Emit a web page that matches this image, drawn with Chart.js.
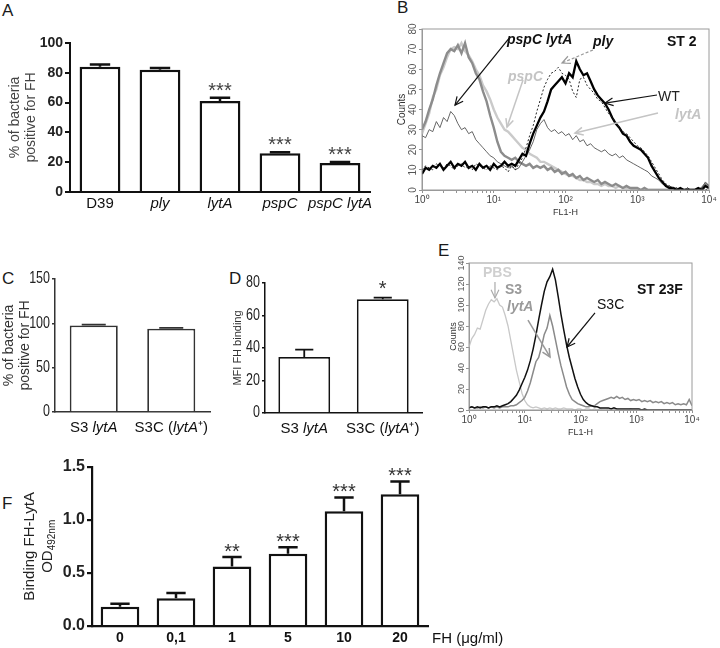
<!DOCTYPE html>
<html>
<head>
<meta charset="utf-8">
<script src="https://cdn.jsdelivr.net/npm/chart.js@4.4.1/dist/chart.umd.min.js"></script>
<style>
  body { margin: 0; background: #fff; width: 720px; height: 648px; position: relative; overflow: hidden;
         font-family: "Liberation Sans", Arial, sans-serif; }
  .tag { position: absolute; font-size: 17px; line-height: 1; color: #1a1a1a; }
  .box { position: absolute; }
</style>
</head>
<body>
<div class="tag" style="left:2px;top:2px">A</div>
<div class="tag" style="left:397px;top:-1px">B</div>
<div class="tag" style="left:2px;top:270px">C</div>
<div class="tag" style="left:229px;top:270px">D</div>
<div class="tag" style="left:438px;top:242px">E</div>
<div class="tag" style="left:2px;top:495px">F</div>

<div class="box" style="left:0;top:28px;width:380px;height:200px"><canvas id="chartA"></canvas></div>
<div class="box" style="left:395px;top:20px;width:325px;height:198px"><canvas id="chartB"></canvas></div>
<div class="box" style="left:0;top:265px;width:215px;height:175px"><canvas id="chartC"></canvas></div>
<div class="box" style="left:215px;top:268px;width:215px;height:172px"><canvas id="chartD"></canvas></div>
<div class="box" style="left:445px;top:253px;width:265px;height:185px"><canvas id="chartE"></canvas></div>
<div class="box" style="left:0;top:455px;width:520px;height:193px"><canvas id="chartF"></canvas></div>

<script>
// ================= DATA =================
// A: % of bacteria positive for FH
const strainsA = ["D39", "ply", "lytA", "pspC", "pspC lytA"];
const fhPosA = [84, 82, 61, 26, 19.5];
const fhPosErrA = [1.5, 1.2, 2.2, 0.6, 0.7];
const starsA = ["", "", "***", "***", "***"];
const yTicksA = [0, 20, 40, 60, 80, 100];

// C / D: serotype 3 strains
const strainsCD = ["S3 lytA", "S3C (lytA⁺)"];
const fhPosC = [97.5, 94];
const fhPosErrC = [1, 0.8];
const yTicksC = [0, 50, 100, 150];
const mfiD = [34.5, 70];
const mfiErrD = [4.5, 1];
const starsD = ["", "*"];
const yTicksD = [0, 20, 40, 60, 80];

// F: FH binding to LytA
const fhDoses = ["0", "0,1", "1", "5", "10", "20"];
const odF = [0.18, 0.26, 0.56, 0.68, 1.08, 1.24];
const odErrF = [0.03, 0.05, 0.09, 0.06, 0.13, 0.12];
const starsF = ["", "", "**", "***", "***", "***"];
const yTicksF = [0, 0.5, 1, 1.5];
const yTickLabelsF = ["0.0", "0.5", "1.0", "1.5"];

// B / E: flow cytometry histograms, x = log10(FL1-H)
const fl1Log = [0, 0.05, 0.1, 0.15, 0.2, 0.25, 0.3, 0.35, 0.4, 0.45,
  0.5, 0.55, 0.6, 0.65, 0.7, 0.75, 0.8, 0.85, 0.9, 0.95,
  1, 1.05, 1.1, 1.15, 1.2, 1.25, 1.3, 1.35, 1.4, 1.45,
  1.5, 1.55, 1.6, 1.65, 1.7, 1.75, 1.8, 1.85, 1.9, 1.95,
  2, 2.05, 2.1, 2.15, 2.2, 2.25, 2.3, 2.35, 2.4, 2.45,
  2.5, 2.55, 2.6, 2.65, 2.7, 2.75, 2.8, 2.85, 2.9, 2.95,
  3, 3.05, 3.1, 3.15, 3.2, 3.25, 3.3, 3.35, 3.4, 3.45,
  3.5, 3.55, 3.6, 3.65, 3.7, 3.75, 3.8, 3.85, 3.9, 3.95, 4];
const decadeLabels = ["10⁰", "10¹", "10²", "10³", "10⁴"];

const yTicksB = [0, 10, 20, 30, 40, 50, 60, 70, 80];
const countsWT = [8, 11, 10, 12, 11, 13, 10, 12, 14, 11,
  13, 12, 14, 11, 12, 10, 13, 11, 12, 10,
  13, 11, 12, 14, 12, 13, 12, 15, 18, 17,
  23, 28, 32, 36, 39, 44, 50, 52, 54, 56,
  53, 58, 56, 64, 60, 57, 58, 54, 50, 47,
  45, 43, 40, 36, 33, 31, 28, 27, 24, 22,
  21, 20, 18, 16, 12, 9, 6, 4, 2, 1,
  1, 0, 1, 0, 0, 0, 0, 1, 0, 2, 1];
const countsPly = [10, 12, 11, 10, 13, 12, 11, 13, 12, 10,
  12, 13, 11, 12, 10, 13, 12, 11, 10, 12,
  11, 10, 12, 11, 9, 12, 10, 13, 16, 21,
  27, 32, 39, 45, 51, 55, 58, 59, 61, 58,
  57, 55, 49, 46, 55, 56, 52, 50, 48, 45,
  44, 41, 38, 36, 34, 31, 29, 28, 26, 24,
  22, 21, 19, 17, 14, 11, 8, 5, 3, 2,
  1, 1, 0, 0, 1, 0, 0, 0, 1, 0, 1];
const countsPspcLytA = [30, 34, 40, 45, 52, 58, 63, 68, 70, 69,
  72, 68, 73, 66, 63, 58, 55, 49, 44, 37,
  31, 24, 19, 17, 16, 15, 16, 14, 13, 12,
  13, 11, 12, 11, 12, 10, 11, 9, 10, 8,
  9, 7, 8, 6, 7, 5, 6, 5, 4, 5,
  3, 4, 3, 2, 3, 2, 1, 2, 1, 1,
  1, 0, 1, 0, 0, 0, 0, 0, 0, 0,
  0, 0, 0, 0, 0, 0, 0, 0, 1, 3, 2];
const countsPspC = [28, 33, 38, 46, 50, 57, 61, 66, 70, 71,
  70, 73, 69, 67, 64, 60, 57, 52, 49, 45,
  40, 36, 33, 30, 29, 27, 25, 23, 21, 20,
  18, 17, 16, 14, 14, 13, 12, 11, 10, 9,
  8, 7, 7, 6, 5, 5, 4, 4, 3, 3,
  2, 3, 2, 2, 1, 2, 1, 1, 1, 0,
  0, 0, 0, 0, 0, 0, 0, 0, 0, 0,
  0, 0, 0, 0, 0, 0, 0, 0, 1, 2, 1];
const countsLytA = [27, 26, 30, 29, 34, 31, 36, 34, 39, 37,
  33, 30, 31, 28, 29, 25, 23, 21, 19, 17,
  16, 14, 13, 12, 11, 12, 10, 11, 14, 17,
  20, 24, 30, 33, 35, 31, 29, 30, 28, 29,
  27, 28, 25, 27, 24, 25, 22, 23, 21, 20,
  19, 20, 18, 17, 18, 16, 17, 15, 14, 13,
  12, 11, 10, 9, 7, 6, 5, 3, 2, 2,
  1, 1, 0, 0, 1, 0, 0, 0, 1, 4, 2];

const yTicksE = [0, 20, 40, 60, 80, 100, 120, 140];
const countsPBS = [60, 68, 72, 78, 77, 86, 95, 101, 105, 103,
  106, 100, 98, 90, 80, 66, 52, 38, 27, 16,
  9, 5, 3, 2, 3, 2, 1, 2, 1, 2,
  1, 2, 1, 1, 2, 1, 1, 1, 0, 1,
  1, 0, 1, 1, 0, 1, 0, 1, 0, 0,
  1, 0, 0, 1, 0, 0, 0, 0, 1, 0,
  0, 0, 0, 0, 0, 0, 0, 0, 0, 0,
  0, 0, 0, 0, 0, 0, 0, 0, 0, 0, 0];
const countsS3LytA = [2, 3, 2, 2, 3, 2, 3, 2, 3, 2,
  3, 2, 3, 3, 3, 4, 4, 5, 7, 9,
  12, 18, 26, 36, 46, 50, 60, 72, 78, 90,
  80, 67, 54, 42, 32, 22, 15, 10, 8, 6,
  5, 4, 3, 3, 4, 4, 6, 8, 9, 10,
  11, 12, 11, 13, 11, 12, 10, 11, 9, 10,
  9, 10, 8, 9, 8, 9, 7, 8, 7, 8,
  6, 7, 6, 7, 5, 6, 5, 6, 5, 10, 4];
const countsS3C = [2, 3, 2, 3, 2, 3, 3, 2, 3, 3,
  4, 3, 4, 5, 6, 8, 11, 14, 19, 25,
  31, 38, 47, 58, 71, 86, 100, 113, 122, 127,
  134, 124, 108, 91, 76, 62, 50, 40, 30, 22,
  15, 10, 7, 5, 4, 3, 3, 2, 2, 2,
  2, 1, 2, 1, 1, 1, 1, 1, 1, 1,
  1, 1, 0, 1, 0, 0, 0, 0, 0, 0,
  0, 0, 0, 0, 0, 0, 0, 0, 0, 0, 0];

// ================= HELPERS =================
const SANS = '"Liberation Sans", Arial, sans-serif';
Chart.defaults.font.family = SANS;
Chart.defaults.color = "#222";

function fontStr(f) {
  return (f.italic ? "italic " : "") + (f.weight || "normal") + " " + f.size + "px " + (f.family || SANS);
}

// category label with gene names in italics
function drawRich(ctx, text, cx, top, f, color) {
  const parts = text.split(/(lytA|pspC|ply)/).filter((p) => p !== "");
  const fonts = parts.map((p) => fontStr({ ...f, italic: /^(lytA|pspC|ply)$/.test(p) }));
  const widths = parts.map((p, i) => { ctx.font = fonts[i]; return ctx.measureText(p).width; });
  let x = cx - widths.reduce((a, b) => a + b, 0) / 2;
  ctx.fillStyle = color;
  ctx.textAlign = "left";
  ctx.textBaseline = "top";
  parts.forEach((p, i) => { ctx.font = fonts[i]; ctx.fillText(p, x, top); x += widths[i]; });
}

function arrow(ctx, x1, y1, x2, y2) {
  const a = Math.atan2(y2 - y1, x2 - x1), L = 9;
  ctx.beginPath();
  ctx.moveTo(x1, y1); ctx.lineTo(x2, y2);
  ctx.stroke();
  ctx.setLineDash([]);
  ctx.beginPath();
  ctx.moveTo(x2 - L * Math.cos(a - 0.45), y2 - L * Math.sin(a - 0.45));
  ctx.lineTo(x2, y2);
  ctx.lineTo(x2 - L * Math.cos(a + 0.45), y2 - L * Math.sin(a + 0.45));
  ctx.stroke();
}

function vText(ctx, t, x, y, font, color) {
  ctx.save();
  ctx.translate(x, y);
  ctx.rotate(-Math.PI / 2);
  ctx.font = font;
  ctx.fillStyle = color;
  ctx.textAlign = "center";
  ctx.textBaseline = "middle";
  ctx.fillText(t, 0, 0);
  ctx.restore();
}

// error bars, stars, labels, annotations
function deco(o) {
  return {
    id: "deco",
    afterDatasetsDraw(chart) {
      if (!o.errs) return;
      const ctx = chart.ctx, ys = chart.scales.y;
      const meta = chart.getDatasetMeta(0);
      ctx.save();
      ctx.strokeStyle = o.ink;
      ctx.lineWidth = o.errW;
      meta.data.forEach((bar, i) => {
        const top = ys.getPixelForValue(o.values[i] + o.errs[i]);
        const half = (bar.width * o.cap) / 2;
        ctx.beginPath();
        ctx.moveTo(bar.x, bar.y); ctx.lineTo(bar.x, top);
        ctx.moveTo(bar.x - half, top); ctx.lineTo(bar.x + half, top);
        ctx.stroke();
        if (o.stars && o.stars[i]) {
          ctx.fillStyle = o.starColor;
          ctx.font = o.starFont;
          ctx.textAlign = "center";
          ctx.textBaseline = "alphabetic";
          ctx.fillText(o.stars[i], bar.x, top + o.starDy);
        }
      });
      ctx.restore();
    },
    afterDraw(chart) {
      const ctx = chart.ctx, xs = chart.scales.x, ys = chart.scales.y, ca = chart.chartArea;
      const mid = (ca.top + ca.bottom) / 2;
      ctx.save();
      if (o.labels) {
        o.labels.forEach((lab, i) => drawRich(ctx, lab, xs.getPixelForValue(i), xs.top + o.labelDy, o.labelFont, o.labelColor));
      }
      if (o.narrowTicks) {
        // condensed tick numbers
        ctx.fillStyle = "#222";
        ctx.font = fontStr({ size: 16 });
        ctx.textAlign = "right";
        ctx.textBaseline = "middle";
        o.yTicks.forEach((v) => {
          ctx.save();
          ctx.translate(ca.left - o.tickLen - 2, ys.getPixelForValue(v));
          ctx.scale(0.78, 1);
          ctx.fillText(String(v), 0, 0);
          ctx.restore();
        });
      }
      if (o.vTitle) {
        o.vTitle.lines.forEach((t, i) => vText(ctx, t, o.vTitle.xs[i], mid, fontStr({ size: o.vTitle.size }), o.vTitle.color));
      }
      if (o.note) {
        ctx.font = fontStr(o.note.font);
        ctx.fillStyle = "#111";
        ctx.textAlign = "left";
        ctx.textBaseline = "top";
        ctx.fillText(o.note.t, ca.right + o.note.dx, xs.top + o.labelDy);
      }
      if (o.odTitle) {
        ctx.save();
        ctx.translate(o.odTitle.x, mid); ctx.rotate(-Math.PI / 2);
        ctx.fillStyle = "#222";
        ctx.font = fontStr({ size: 15 }); const w1 = ctx.measureText("OD").width;
        ctx.font = fontStr({ size: 10 }); const w2 = ctx.measureText("492nm").width;
        ctx.textAlign = "left"; ctx.textBaseline = "alphabetic";
        ctx.font = fontStr({ size: 15 }); ctx.fillText("OD", -(w1 + w2) / 2, 5);
        ctx.font = fontStr({ size: 10 }); ctx.fillText("492nm", -(w1 + w2) / 2 + w1, 8);
        ctx.restore();
      }
      if (o.frame) {
        ctx.strokeStyle = o.frame;
        ctx.lineWidth = 1;
        ctx.strokeRect(ca.left, ca.top, ca.right - ca.left, ca.bottom - ca.top);
      }
      if (o.rotTicks) {
        o.rotTicks.values.forEach((v) => vText(ctx, String(v), ca.left - o.rotTicks.dx, ys.getPixelForValue(v), fontStr({ size: o.rotTicks.size }), "#555"));
        vText(ctx, "Counts", o.rotTicks.titleX, mid, fontStr({ size: o.rotTicks.size }), "#333");
      }
      (o.arrows || []).forEach((a) => {
        ctx.strokeStyle = a.color;
        ctx.lineWidth = a.w || 1.2;
        ctx.setLineDash(a.dash || []);
        arrow(ctx, xs.getPixelForValue(a.x1), ys.getPixelForValue(a.y1), xs.getPixelForValue(a.x2), ys.getPixelForValue(a.y2));
      });
      ctx.setLineDash([]);
      (o.texts || []).forEach((t) => {
        ctx.font = fontStr({ size: 14, weight: t.weight, italic: t.italic });
        ctx.fillStyle = t.color;
        ctx.textAlign = "left";
        ctx.textBaseline = "middle";
        ctx.fillText(t.t, xs.getPixelForValue(t.x), ys.getPixelForValue(t.y));
      });
      ctx.restore();
    },
  };
}

// ================= BAR PANELS =================
function barChart(id, o) {
  return new Chart(document.getElementById(id), {
    type: "bar",
    data: {
      labels: o.labels,
      datasets: [{ data: o.values, backgroundColor: "#fff", borderColor: o.ink, borderWidth: o.lw, barPercentage: o.barPct, categoryPercentage: 1 }],
    },
    options: {
      responsive: true,
      maintainAspectRatio: false,
      animation: false,
      layout: { padding: o.pad },
      plugins: { legend: { display: false }, tooltip: { enabled: false } },
      scales: {
        x: {
          grid: { display: false },
          border: { color: o.ink, width: o.axisW },
          ticks: { display: false },
          afterFit: (s) => { s.height = o.xH; },
        },
        y: {
          min: o.yTicks[0],
          max: o.yTicks[o.yTicks.length - 1],
          afterBuildTicks: (s) => { s.ticks = o.yTicks.map((v) => ({ value: v })); },
          afterFit: (s) => { s.width = o.yW; },
          grid: { drawOnChartArea: false, color: o.ink, lineWidth: o.axisW, tickLength: o.tickLen },
          border: { color: o.ink, width: o.axisW },
          ticks: { display: !o.narrowTicks, font: o.tickFont, color: "#222", padding: 2, callback: (v) => (o.fmt ? o.fmt(v) : String(v)) },
        },
      },
    },
    plugins: [deco(o)],
  });
}

// ================= HISTOGRAM PANELS =================
const logTicks = [];
for (let d = 0; d < 4; d++) for (let k = 1; k < 10; k++) logTicks.push(d + Math.log10(k));
logTicks.push(4);

function histChart(id, o) {
  return new Chart(document.getElementById(id), {
    type: "line",
    data: {
      datasets: o.curves.map((c) => ({
        data: fl1Log.map((x, i) => ({ x, y: c.counts[i] })),
        borderColor: c.color, borderWidth: c.w, borderDash: c.dash || [],
        pointRadius: 0, tension: 0, fill: false,
      })),
    },
    options: {
      responsive: true,
      maintainAspectRatio: false,
      animation: false,
      layout: { padding: o.pad },
      plugins: { legend: { display: false }, tooltip: { enabled: false } },
      scales: {
        x: {
          type: "linear", min: 0, max: 4,
          afterBuildTicks: (s) => { s.ticks = logTicks.map((v) => ({ value: v })); },
          afterFit: (s) => { s.height = o.xH; },
          ticks: { autoSkip: false, maxRotation: 0, padding: 1, font: { size: 10 }, color: "#444",
                   callback: (v) => (Number.isInteger(v) ? decadeLabels[v] : "") },
          grid: { drawOnChartArea: false, tickLength: 3, color: "#777", lineWidth: 0.8 },
          border: { color: "#999" },
          title: { display: true, text: "FL1-H", font: { size: 9 }, color: "#333", padding: 0 },
        },
        y: {
          min: 0, max: o.yTicks[o.yTicks.length - 1],
          afterBuildTicks: (s) => { s.ticks = o.yTicks.map((v) => ({ value: v })); },
          afterFit: (s) => { s.width = o.yW; },
          ticks: { display: false },
          grid: { drawOnChartArea: false, tickLength: 3, color: "#777", lineWidth: 0.8 },
          border: { color: "#999" },
        },
      },
    },
    plugins: [deco({ frame: "#9a9a9a", rotTicks: { values: o.yTicks, dx: o.tickDx, size: o.tickSize, titleX: o.titleX }, texts: o.texts, arrows: o.arrows })],
  });
}

// ================= BUILD =================
barChart("chartA", {
  labels: strainsA, values: fhPosA, errs: fhPosErrA, stars: starsA, yTicks: yTicksA,
  pad: { top: 15, right: 10, left: 0, bottom: 0 }, yW: 70, xH: 36, barPct: 0.68,
  ink: "#111", lw: 2.5, axisW: 2, tickLen: 5, tickFont: { size: 14, weight: "bold" },
  vTitle: { lines: ["% of bacteria", "positive for FH"], xs: [15, 31], size: 14, color: "#444" },
  labelFont: { size: 15 }, labelDy: 4, labelColor: "#111",
  errW: 2.5, cap: 0.5, starFont: "20px " + SANS, starColor: "#444", starDy: -1,
});

barChart("chartC", {
  labels: strainsCD, values: fhPosC, errs: fhPosErrC, yTicks: yTicksC, narrowTicks: true,
  pad: { top: 14, right: 5, left: 0, bottom: 0 }, yW: 55, xH: 28, barPct: 0.62,
  ink: "#333", lw: 1.8, axisW: 1.5, tickLen: 3,
  vTitle: { lines: ["% of bacteria", "positive for FH"], xs: [9, 25], size: 14, color: "#333" },
  labelFont: { size: 15 }, labelDy: 8, labelColor: "#111",
  errW: 1.8, cap: 0.5,
});

barChart("chartD", {
  labels: strainsCD, values: mfiD, errs: mfiErrD, stars: starsD, yTicks: yTicksD, narrowTicks: true,
  pad: { top: 15, right: 8, left: 0, bottom: 0 }, yW: 50, xH: 27, barPct: 0.66,
  ink: "#111", lw: 1.8, axisW: 1.5, tickLen: 3,
  vTitle: { lines: ["MFI FH binding"], xs: [23], size: 11, color: "#333" },
  labelFont: { size: 15 }, labelDy: 8, labelColor: "#111",
  errW: 1.8, cap: 0.35, starFont: "20px " + SANS, starColor: "#333", starDy: -3,
});

barChart("chartF", {
  labels: fhDoses, values: odF, errs: odErrF, stars: starsF, yTicks: yTicksF,
  fmt: (v) => yTickLabelsF[yTicksF.indexOf(v)],
  pad: { top: 11, right: 92, left: 0, bottom: 0 }, yW: 92, xH: 22, barPct: 0.69,
  ink: "#111", lw: 2.5, axisW: 2.2, tickLen: 5, tickFont: { size: 16, weight: "bold" },
  vTitle: { lines: ["Binding FH-LytA"], xs: [30], size: 15, color: "#222" }, odTitle: { x: 47 },
  labelFont: { size: 14, weight: "bold" }, labelDy: 5, labelColor: "#111",
  note: { t: "FH (μg/ml)", dx: 4, font: { size: 15 } },
  errW: 2.5, cap: 0.5, starFont: "20px " + SANS, starColor: "#333", starDy: 1,
});

histChart("chartB", {
  yTicks: yTicksB, pad: { top: 9, right: 11, left: 0, bottom: 0 }, yW: 27, xH: 28,
  tickDx: 9, tickSize: 10, titleX: 7,
  curves: [
    { counts: countsPly, color: "#222", w: 1, dash: [2, 2] },
    { counts: countsWT, color: "#000", w: 2.3 },
    { counts: countsLytA, color: "#555", w: 0.9 },
    { counts: countsPspcLytA, color: "#8c8c8c", w: 2.4 },
    { counts: countsPspC, color: "#cacaca", w: 2.4 },
  ],
  texts: [
    { t: "pspC lytA", x: 1.185, y: 74.6, color: "#111", weight: "bold", italic: true },
    { t: "ply", x: 2.383, y: 73.6, color: "#111", weight: "bold", italic: true },
    { t: "ST 2", x: 3.415, y: 73.6, color: "#111", weight: "bold" },
    { t: "pspC", x: 1.199, y: 56.2, color: "#c4c4c4", weight: "bold", italic: true },
    { t: "WT", x: 3.289, y: 46.2, color: "#222" },
    { t: "lytA", x: 3.526, y: 37.3, color: "#c4c4c4", weight: "bold", italic: true },
  ],
  arrows: [
    { x1: 1.226, y1: 76, x2: 0.46, y2: 42.2, color: "#111" },
    { x1: 2.383, y1: 69.6, x2: 1.951, y2: 63.1, color: "#999", dash: [3, 2] },
    { x1: 1.408, y1: 54.7, x2: 1.185, y2: 31.3, color: "#c4c4c4", w: 1.5 },
    { x1: 3.275, y1: 47.2, x2: 2.551, y2: 43.2, color: "#111" },
    { x1: 3.289, y1: 38.3, x2: 2.132, y2: 28.3, color: "#c4c4c4", w: 1.5 },
  ],
});

histChart("chartE", {
  yTicks: yTicksE, pad: { top: 10, right: 18, left: 0, bottom: 0 }, yW: 24, xH: 28,
  tickDx: 7, tickSize: 9, titleX: 9,
  curves: [
    { counts: countsS3C, color: "#111", w: 1.5 },
    { counts: countsS3LytA, color: "#8a8a8a", w: 1.5 },
    { counts: countsPBS, color: "#c8c8c8", w: 1.3 },
  ],
  texts: [
    { t: "PBS", x: 0.251, y: 130, color: "#cfcfcf", weight: "bold" },
    { t: "S3", x: 0.646, y: 114, color: "#9a9a9a", weight: "bold" },
    { t: "lytA", x: 0.682, y: 98, color: "#9a9a9a", weight: "bold", italic: true },
    { t: "ST 23F", x: 3.013, y: 114, color: "#111", weight: "bold" },
    { t: "S3C", x: 2.296, y: 100, color: "#111" },
  ],
  arrows: [
    { x1: 0.466, y1: 122, x2: 0.466, y2: 106.7, color: "#aaa" },
    { x1: 1.058, y1: 85.7, x2: 1.453, y2: 50.5, color: "#999", w: 1.5 },
    { x1: 2.26, y1: 92.4, x2: 1.758, y2: 60, color: "#111" },
  ],
});
</script>
</body>
</html>
